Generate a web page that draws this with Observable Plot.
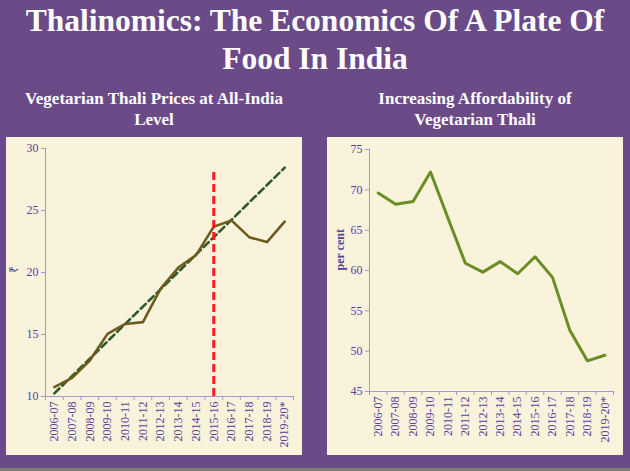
<!DOCTYPE html>
<html>
<head>
<meta charset="utf-8">
<script src="https://cdn.jsdelivr.net/npm/d3@7"></script>
<script src="https://cdn.jsdelivr.net/npm/@observablehq/plot@0.6"></script>
<style>
  html, body { margin: 0; padding: 0; }
  body { width: 630px; height: 471px; background: #6b4a88; position: relative; overflow: hidden; font-family: "Liberation Serif", "Times New Roman", serif; }
  .title { position: absolute; left: 0; top: 2px; width: 630px; text-align: center; color: #fff; font-weight: bold; font-size: 31.5px; line-height: 38px; }
  .sub { position: absolute; top: 88px; text-align: center; color: #fff; font-weight: bold; font-size: 17px; line-height: 21px; }
  .panel { position: absolute; top: 137px; width: 296px; height: 318px; }
  .strip { position: absolute; left: 0; top: 468px; width: 630px; height: 3px; background: #7d7d7d; }
</style>
</head>
<body>
<div class="title">Thalinomics: The Economics Of A Plate Of<br>Food In India</div>
<div class="sub" style="left:6px;width:296px;">Vegetarian Thali Prices at All-India<br>Level</div>
<div class="sub" style="left:327px;width:296px;">Increasing Affordability of<br>Vegetarian Thali</div>
<div class="panel" id="left" style="left:6px;"></div>
<div class="panel" id="right" style="left:327px;"></div>
<div class="strip"></div>
<script>
const categories = ["2006-07","2007-08","2008-09","2009-10","2010-11","2011-12","2012-13","2013-14","2014-15","2015-16","2016-17","2017-18","2018-19","2019-20*"];
const thaliPrice = [10.75, 11.5, 12.9, 15.05, 15.85, 16.0, 18.7, 20.4, 21.4, 23.7, 24.2, 22.85, 22.45, 24.1];
const trendCategories = ["2006-07", "2019-20*"];
const trendValues = [10.25, 28.45];
const markerCategory = "2015-16";
const markerRange = [10, 28.2];
const affordability = [69.6, 68.2, 68.55, 72.2, 66.5, 60.9, 59.8, 61.1, 59.6, 61.7, 59.15, 52.55, 48.8, 49.5];
const priceTicks = [10, 15, 20, 25, 30];
const affordTicks = [45, 50, 55, 60, 65, 70, 75];
const priceLabel = "₹";
const affordLabel = "per cent";

const axisColor = "#a696d4";
const labelColor = "#5c3c9c";
const pos = c => categories.indexOf(c) + 0.5;

function xAxes() {
  return [
    Plot.axisX({ticks: d3.range(categories.length + 1), tickSize: 4, tickFormat: () => "", stroke: axisColor, label: null}),
    Plot.axisX({ticks: categories.map(pos), tickSize: 0, tickPadding: 5, tickRotate: -90, label: null,
      tickFormat: v => categories[Math.round(v - 0.5)], fill: labelColor})
  ];
}

const priceData = categories.map((c, i) => ({c, v: thaliPrice[i]}));
const trendData = trendCategories.map((c, i) => ({c, v: trendValues[i]}));

const left = Plot.plot({
  width: 296, height: 318,
  marginLeft: 39, marginRight: 9, marginTop: 11, marginBottom: 59,
  style: {background: "#faf3dc", fontFamily: "Liberation Serif", fontSize: "12px", color: labelColor},
  x: {domain: [0, categories.length], axis: null},
  y: {domain: [priceTicks[0], priceTicks[priceTicks.length - 1]], axis: null},
  marks: [
    Plot.ruleX([0], {stroke: axisColor}),
    Plot.ruleY([priceTicks[0]], {stroke: axisColor}),
    Plot.axisY({ticks: priceTicks, tickSize: 4, tickPadding: 3, stroke: axisColor, fill: labelColor, label: null}),
    ...xAxes(),
    Plot.text([priceLabel], {frameAnchor: "left", dx: -31, y: 20, text: d => d, rotate: -90, fill: labelColor, fontSize: 12}),
    Plot.line(trendData, {x: d => pos(d.c), y: "v", stroke: "#2e5a2b", strokeWidth: 2.6, strokeDasharray: "7,4"}),
    Plot.line(priceData, {x: d => pos(d.c), y: "v", stroke: "#6d5b1d", strokeWidth: 2.6}),
    Plot.ruleX([markerCategory], {x: d => pos(d), y1: markerRange[0], y2: markerRange[1], stroke: "#ff1a1a", strokeWidth: 3, strokeDasharray: "8,4"})
  ]
});
document.getElementById("left").appendChild(left);

const affordData = categories.map((c, i) => ({c, v: affordability[i]}));
const right = Plot.plot({
  width: 296, height: 318,
  marginLeft: 42, marginRight: 10, marginTop: 12, marginBottom: 64,
  style: {background: "#faf3dc", fontFamily: "Liberation Serif", fontSize: "12px", color: labelColor},
  x: {domain: [0, categories.length], axis: null},
  y: {domain: [affordTicks[0], affordTicks[affordTicks.length - 1]], axis: null},
  marks: [
    Plot.ruleX([0], {stroke: axisColor}),
    Plot.ruleY([affordTicks[0]], {stroke: axisColor}),
    Plot.axisY({ticks: affordTicks, tickSize: 4, tickPadding: 3, stroke: axisColor, fill: labelColor, label: null}),
    ...xAxes(),
    Plot.text([affordLabel], {frameAnchor: "left", dx: -29, y: 60, text: d => d, rotate: -90, fill: labelColor, fontSize: 12, fontWeight: "bold"}),
    Plot.line(affordData, {x: d => pos(d.c), y: "v", stroke: "#6a8e24", strokeWidth: 3})
  ]
});
document.getElementById("right").appendChild(right);
</script>
</body>
</html>
